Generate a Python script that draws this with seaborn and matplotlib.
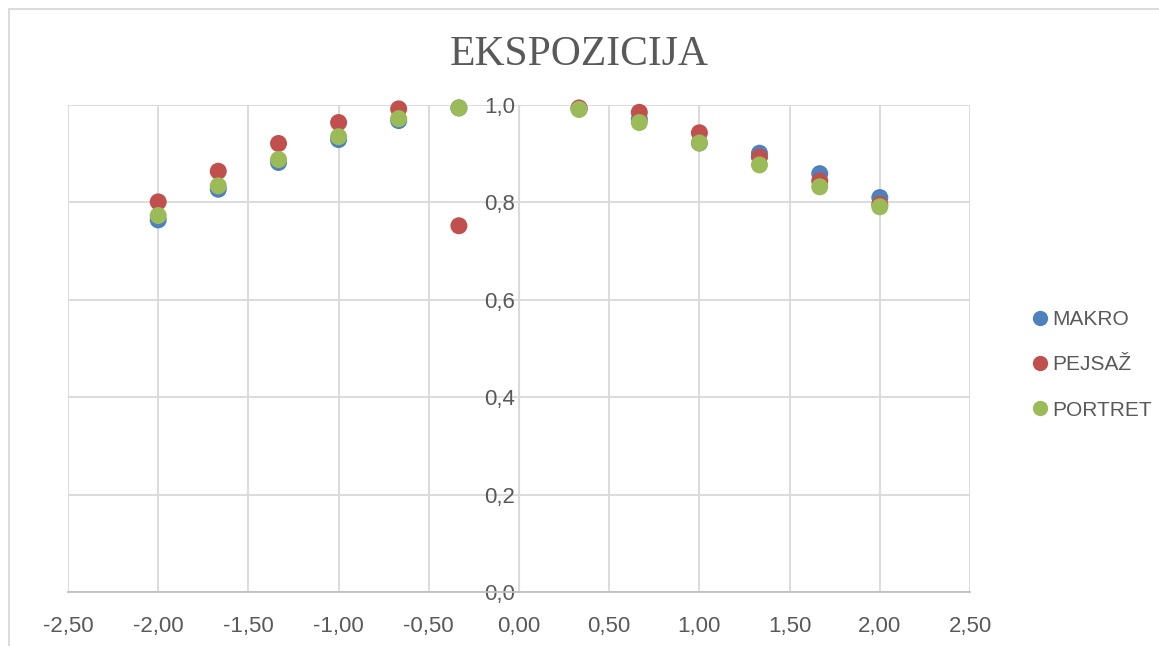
import numpy as np
import pandas as pd
import seaborn as sns
import matplotlib.pyplot as plt
from matplotlib.lines import Line2D

# exposure steps (EV)
x_vals = [-2.0, -1.667, -1.333, -1.0, -0.667, -0.333, 0.333, 0.667, 1.0, 1.333, 1.667, 2.0]

makro = [0.764, 0.827, 0.882, 0.929, 0.968, 0.994, 0.992, 0.971, 0.922, 0.901, 0.859, 0.810]
pejsaz = [0.801, 0.864, 0.921, 0.964, 0.992, 0.752, 0.994, 0.985, 0.943, 0.893, 0.844, 0.796]
portret = [0.773, 0.834, 0.888, 0.935, 0.972, 0.994, 0.991, 0.964, 0.922, 0.877, 0.832, 0.791]

series_names = ["MAKRO", "PEJSAŽ", "PORTRET"]
colors = ["#4F81BD", "#C0504D", "#9BBB59"]

df = pd.concat([
    pd.DataFrame({"x": x_vals, "y": makro, "serija": "MAKRO"}),
    pd.DataFrame({"x": x_vals, "y": pejsaz, "serija": "PEJSAŽ"}),
    pd.DataFrame({"x": x_vals, "y": portret, "serija": "PORTRET"}),
])

sns.set_style("white")
plt.rcParams['font.family'] = ['Liberation Sans', 'DejaVu Sans']

fig = plt.figure(figsize=(11.59, 6.46), dpi=100)
ax = fig.add_axes([68 / 1159, 1 - 592 / 646, (970 - 68) / 1159, (592 - 105) / 646])

sns.scatterplot(data=df, x="x", y="y", hue="serija", palette=colors,
                hue_order=series_names, s=150, edgecolor="none", ax=ax, legend=False,
                clip_on=False)

ax.set_xlim(-2.5, 2.5)
ax.set_ylim(0, 1.0)
ax.set_xticks(np.arange(-2.5, 2.51, 0.5))
ax.set_yticks(np.arange(0, 1.01, 0.2))
ax.set_xticklabels([f"{v:.2f}".replace(".", ",") for v in np.arange(-2.5, 2.51, 0.5)])
ax.set_yticklabels([f"{v:.1f}".replace(".", ",") for v in np.arange(0, 1.01, 0.2)])
ax.grid(True, color="#d9d9d9", linewidth=1.3)
ax.set_axisbelow(True)
ax.set_xlabel("")
ax.set_ylabel("")

for side in ["top", "right"]:
    ax.spines[side].set_visible(False)
ax.spines["left"].set_position(("data", 0))
ax.spines["left"].set_color("#d9d9d9")
ax.spines["bottom"].set_color("#bfbfbf")
ax.spines["bottom"].set_linewidth(1.3)
ax.tick_params(axis="both", length=0, labelsize=16, labelcolor="#595959")
ax.tick_params(axis="x", pad=17)
ax.tick_params(axis="y", pad=3)

fig.suptitle("EKSPOZICIJA", y=0.945, fontsize=30, color="#595959",
             family=["Liberation Serif"])

handles = [Line2D([], [], marker="o", linestyle="", markersize=11,
                  markerfacecolor=c, markeredgecolor="none") for c in colors]
fig.legend(handles, series_names, loc="center left", bbox_to_anchor=(0.87, 0.435),
           frameon=False, fontsize=15, labelcolor="#595959", handletextpad=0.0,
           labelspacing=1.25, handlelength=1.2)

# chart frame (top and left edges visible)
fig.add_artist(Line2D([9 / 1159, 9 / 1159], [0, 1 - 9 / 646], transform=fig.transFigure,
                      color="#d9d9d9", linewidth=1.3))
fig.add_artist(Line2D([9 / 1159, 1], [1 - 9 / 646, 1 - 9 / 646], transform=fig.transFigure,
                      color="#d9d9d9", linewidth=1.3))

fig.savefig("out.png", dpi=100)
